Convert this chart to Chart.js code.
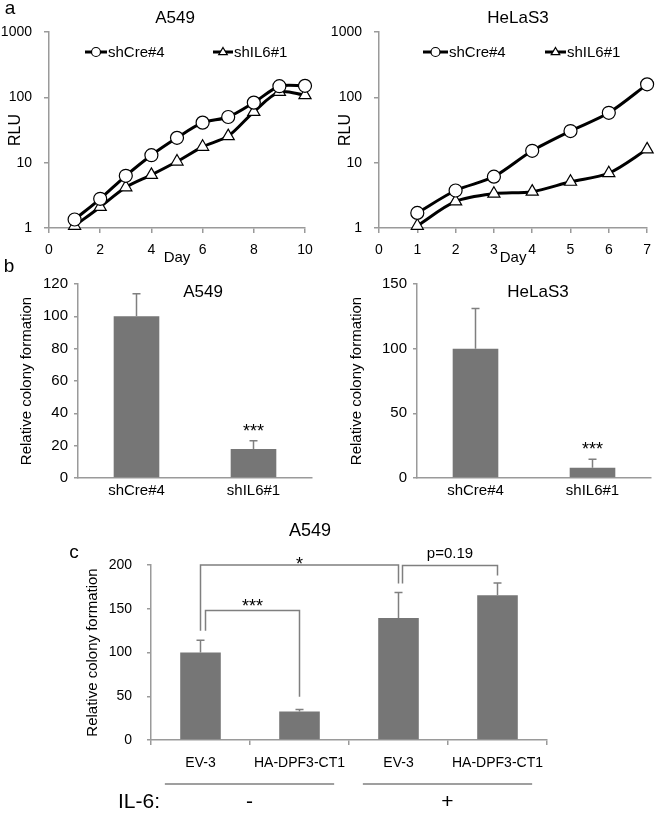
<!DOCTYPE html>
<html>
<head>
<meta charset="utf-8">
<script src="https://cdn.jsdelivr.net/npm/chart.js@4/dist/chart.umd.min.js"></script>
<style>
  body { margin: 0; background: #fff; width: 660px; height: 813px; position: relative; overflow: hidden; }
  canvas { position: absolute; }
</style>
</head>
<body>
<canvas id="growthA549" width="330" height="270" style="left:0;top:0"></canvas>
<canvas id="growthHeLa" width="330" height="270" style="left:330px;top:0"></canvas>
<canvas id="colonyA549" width="330" height="256" style="left:0;top:256px"></canvas>
<canvas id="colonyHeLa" width="330" height="256" style="left:330px;top:256px"></canvas>
<canvas id="rescueA549" width="660" height="298" style="left:0;top:515px"></canvas>
<script>
// panel a: growth curves (RLU, log scale)
const daysA549 = [1, 2, 3, 4, 5, 6, 7, 8, 9, 10];
const creA549 = [1.35, 2.8, 6.3, 13, 24, 41, 50, 83, 148, 150];
const il6A549 = [1.08, 2.1, 4.2, 6.5, 10.4, 17.5, 25.5, 60, 121, 108];
const daysHeLa = [1, 2, 3, 4, 5, 6, 7];
const creHeLa = [1.7, 3.75, 6.1, 15.2, 30.5, 58, 158];
const il6HeLa = [1.08, 2.55, 3.35, 3.6, 5.1, 6.9, 16];
const rluTicks = [1, 10, 100, 1000];

// panel b: colony formation
const shGroups = ['shCre#4', 'shIL6#1'];
const colonyA549 = [100, 18];
const colonyA549Err = [14, 5];
const colonyHeLa = [100, 8];
const colonyHeLaErr = [31, 6.5];
const colonyMarks = ['', '***'];

// panel c: IL-6 rescue
const rescueGroups = ['EV-3', 'HA-DPF3-CT1', 'EV-3', 'HA-DPF3-CT1'];
const rescueValues = [100, 32.5, 139.5, 165.5];
const rescueErr = [14, 2.5, 29, 14];
const il6States = ['-', '+'];

Chart.defaults.font.family = "'Liberation Sans', Arial, sans-serif";
Chart.defaults.color = '#000';

const AXIS = '#9a9a9a';
const BAR = '#767676';

// plain text labels drawn on a chart canvas (titles, panel letters)
function texts(items) {
  return {
    id: 'texts',
    afterDraw(chart) {
      const ctx = chart.ctx;
      items.forEach(t => {
        ctx.save();
        ctx.font = t.font;
        ctx.fillStyle = '#000';
        ctx.textAlign = t.align || 'center';
        ctx.textBaseline = 'middle';
        ctx.fillText(t.text, t.x, t.y);
        ctx.restore();
      });
    }
  };
}

function drawMarker(ctx, style, x, y, r) {
  ctx.beginPath();
  if (style === 'triangle') {
    ctx.moveTo(x, y - r);
    ctx.lineTo(x + r * 0.95, y + r * 0.6);
    ctx.lineTo(x - r * 0.95, y + r * 0.6);
    ctx.closePath();
  } else {
    ctx.arc(x, y, r, 0, Math.PI * 2);
  }
  ctx.fillStyle = '#fff';
  ctx.fill();
  ctx.lineWidth = 1.2;
  ctx.strokeStyle = '#000';
  ctx.stroke();
}

// excel style legend: line with marker, then label
function lineLegend(entries) {
  return {
    id: 'lineLegend',
    afterDraw(chart) {
      const ctx = chart.ctx;
      chart.data.datasets.forEach((ds, i) => {
        const e = entries[i];
        ctx.save();
        ctx.strokeStyle = '#000';
        ctx.lineWidth = 3;
        ctx.beginPath();
        ctx.moveTo(e.x1, e.y);
        ctx.lineTo(e.x2, e.y);
        ctx.stroke();
        drawMarker(ctx, ds.pointStyle, (e.x1 + e.x2) / 2, e.y, 4.5);
        ctx.font = '15px ' + Chart.defaults.font.family;
        ctx.fillStyle = '#000';
        ctx.textBaseline = 'middle';
        ctx.fillText(ds.label, e.x2 + 1, e.y + 1);
        ctx.restore();
      });
    }
  };
}

function growthChart(id, days, cre, il6, xMax, xStep, padRight, extras) {
  const pts = arr => days.map((d, i) => ({ x: d, y: arr[i] }));
  const series = (label, data, style, r) => ({
    label, data: pts(data), borderColor: '#000', borderWidth: 3,
    pointStyle: style, pointRadius: r, pointBackgroundColor: '#fff',
    pointBorderColor: '#000', pointBorderWidth: 1.2, tension: 0.3, clip: false
  });
  return new Chart(document.getElementById(id), {
    type: 'line',
    data: {
      datasets: [
        series('shCre#4', cre, 'circle', 6.5),
        series('shIL6#1', il6, 'triangle', 7)
      ]
    },
    options: {
      responsive: false,
      animation: false,
      layout: { padding: { left: 0, top: 32, right: padRight, bottom: 0 } },
      plugins: { legend: { display: false }, tooltip: { enabled: false } },
      scales: {
        x: {
          type: 'linear', min: 0, max: xMax,
          ticks: { stepSize: xStep, font: { size: 14 }, padding: 9, maxRotation: 0 },
          grid: { drawOnChartArea: false, tickLength: 5, color: AXIS, lineWidth: 1.5 },
          border: { color: AXIS, width: 1.5 },
          title: { display: true, text: 'Day', font: { size: 15 }, padding: { top: 0, bottom: 3 } },
          afterFit: s => { s.height = 42; }
        },
        y: {
          type: 'logarithmic', min: 1, max: 1000,
          afterBuildTicks: s => { s.ticks = rluTicks.map(v => ({ value: v })); },
          ticks: { callback: v => String(v), font: { size: 14 }, padding: 12 },
          grid: { drawOnChartArea: false, tickLength: 5, color: AXIS, lineWidth: 1.5 },
          border: { color: AXIS, width: 1.5 },
          title: { display: true, text: 'RLU', font: { size: 16 }, padding: { top: 6 } },
          afterFit: s => { s.width = 49; }
        }
      }
    },
    plugins: extras
  });
}

// error bars drawn upward from each bar top, plus significance marks
const errorBars = {
  id: 'errorBars',
  afterDatasetsDraw(chart) {
    const ctx = chart.ctx;
    const y = chart.scales.y;
    const ds = chart.data.datasets[0];
    chart.getDatasetMeta(0).data.forEach((bar, i) => {
      const top = y.getPixelForValue(ds.data[i] + ds.errors[i]);
      ctx.save();
      ctx.strokeStyle = '#7f7f7f';
      ctx.lineWidth = 1.5;
      ctx.beginPath();
      ctx.moveTo(bar.x, bar.y);
      ctx.lineTo(bar.x, top);
      ctx.moveTo(bar.x - 4, top);
      ctx.lineTo(bar.x + 4, top);
      ctx.stroke();
      if (ds.marks && ds.marks[i]) {
        ctx.font = '18px ' + Chart.defaults.font.family;
        ctx.fillStyle = '#000';
        ctx.textAlign = 'center';
        ctx.textBaseline = 'alphabetic';
        ctx.fillText(ds.marks[i], bar.x, top - 4);
      }
      ctx.restore();
    });
  }
};

function barScales(yMax, yStep, yWidth, xHeight, tickSize, xTicks) {
  return {
    x: {
      ticks: Object.assign({ font: { size: tickSize }, maxRotation: 0 }, xTicks.ticks),
      grid: Object.assign({ drawOnChartArea: false, color: AXIS, lineWidth: 1.5 }, xTicks.grid),
      border: { color: AXIS, width: 1.5 },
      afterFit: s => { s.height = xHeight; }
    },
    y: {
      min: 0, max: yMax,
      ticks: { stepSize: yStep, font: { size: tickSize }, padding: xTicks.yPad },
      grid: { drawOnChartArea: false, tickLength: 4, color: AXIS, lineWidth: 1.5 },
      border: { color: AXIS, width: 1.5 },
      title: { display: true, text: 'Relative colony formation', font: { size: 15 }, padding: { top: xTicks.titlePad } },
      afterFit: s => { s.width = yWidth; }
    }
  };
}

function colonyChart(id, values, errs, yMax, yStep, yWidth, padRight, extras) {
  return new Chart(document.getElementById(id), {
    type: 'bar',
    data: {
      labels: shGroups,
      datasets: [{
        data: values, errors: errs, marks: colonyMarks, backgroundColor: BAR,
        barPercentage: 0.39, categoryPercentage: 1
      }]
    },
    options: {
      responsive: false,
      animation: false,
      layout: { padding: { left: 0, top: 28, right: padRight, bottom: 0 } },
      plugins: { legend: { display: false }, tooltip: { enabled: false } },
      scales: barScales(yMax, yStep, yWidth, 34, 15, {
        ticks: { padding: 4 }, grid: { drawTicks: false }, yPad: 6, titlePad: 18
      })
    },
    plugins: [errorBars].concat(extras)
  });
}

growthChart('growthA549', daysA549, creA549, il6A549, 10, 2, 25, [
  lineLegend([{ x1: 85, x2: 107, y: 52 }, { x1: 213, x2: 233, y: 52 }]),
  texts([
    { text: 'a', x: 10, y: 9, font: '19px ' + Chart.defaults.font.family },
    { text: 'A549', x: 175, y: 18, font: '17px ' + Chart.defaults.font.family }
  ])
]);
growthChart('growthHeLa', daysHeLa, creHeLa, il6HeLa, 7, 1, 10, [
  lineLegend([{ x1: 93, x2: 118, y: 52 }, { x1: 215, x2: 236, y: 52 }]),
  texts([{ text: 'HeLaS3', x: 188, y: 18, font: '17px ' + Chart.defaults.font.family }])
]);

colonyChart('colonyA549', colonyA549, colonyA549Err, 120, 20, 78, 18, [
  texts([
    { text: 'b', x: 9, y: 11, font: '19px ' + Chart.defaults.font.family },
    { text: 'A549', x: 203, y: 36, font: '17px ' + Chart.defaults.font.family }
  ])
]);
colonyChart('colonyHeLa', colonyHeLa, colonyHeLaErr, 150, 50, 87, 9, [
  texts([{ text: 'HeLaS3', x: 208, y: 36, font: '17px ' + Chart.defaults.font.family }])
]);

// significance brackets for panel c (values in data units)
const rescueBrackets = [
  { from: 0, to: 1, top: 148, legs: [125, 49.5], label: '***', size: 18, gap: -1, shift: 5 },
  { from: 0, to: 2, top: 200, legs: [125, 179], label: '*', size: 18, gap: -5, shift: 0 },
  { from: 2, to: 3, top: 199.5, legs: [179, 188], label: 'p=0.19', size: 15, gap: 7, shift: 4 }
];

const bracketPlugin = {
  id: 'brackets',
  afterDatasetsDraw(chart) {
    const ctx = chart.ctx;
    const { x, y } = chart.scales;
    rescueBrackets.forEach(b => {
      const x1 = x.getPixelForValue(b.from) + b.shift;
      const x2 = x.getPixelForValue(b.to);
      const yt = y.getPixelForValue(b.top);
      ctx.save();
      ctx.strokeStyle = '#7f7f7f';
      ctx.lineWidth = 1.5;
      ctx.beginPath();
      ctx.moveTo(x1, y.getPixelForValue(b.legs[0]));
      ctx.lineTo(x1, yt);
      ctx.lineTo(x2, yt);
      ctx.lineTo(x2, y.getPixelForValue(b.legs[1]));
      ctx.stroke();
      ctx.font = b.size + 'px ' + Chart.defaults.font.family;
      ctx.fillStyle = '#000';
      ctx.textAlign = 'center';
      ctx.textBaseline = 'alphabetic';
      ctx.fillText(b.label, (x1 + x2) / 2, yt - b.gap);
      ctx.restore();
    });
  }
};

// IL-6 treatment row under the category labels
const il6Row = {
  id: 'il6Row',
  afterDraw(chart) {
    const ctx = chart.ctx;
    const x = chart.scales.x;
    const area = chart.chartArea;
    const step = x.getPixelForValue(1) - x.getPixelForValue(0);
    const lineY = area.bottom + 44;
    const textY = area.bottom + 62;
    ctx.save();
    ctx.font = '21px ' + Chart.defaults.font.family;
    ctx.fillStyle = '#000';
    ctx.textBaseline = 'middle';
    ctx.textAlign = 'right';
    ctx.fillText('IL-6:', 160, textY);
    ctx.textAlign = 'center';
    il6States.forEach((s, g) => {
      const a = x.getPixelForValue(g * 2) - step * 0.36;
      const b = x.getPixelForValue(g * 2 + 1) + step * 0.35;
      ctx.strokeStyle = '#7f7f7f';
      ctx.lineWidth = 1.5;
      ctx.beginPath();
      ctx.moveTo(a, lineY);
      ctx.lineTo(b, lineY);
      ctx.stroke();
      ctx.fillText(s, (a + b) / 2, textY);
    });
    ctx.restore();
  }
};

new Chart(document.getElementById('rescueA549'), {
  type: 'bar',
  data: {
    labels: rescueGroups,
    datasets: [{
      data: rescueValues, errors: rescueErr, backgroundColor: BAR,
      barPercentage: 0.41, categoryPercentage: 1
    }]
  },
  options: {
    responsive: false,
    animation: false,
    layout: { padding: { left: 0, top: 50, right: 113, bottom: 33 } },
    plugins: { legend: { display: false }, tooltip: { enabled: false } },
    scales: barScales(200, 50, 151, 40, 14, {
      ticks: { padding: 10 }, grid: { tickLength: 5 }, yPad: 15, titlePad: 84
    })
  },
  plugins: [errorBars, bracketPlugin, il6Row, texts([
    { text: 'c', x: 74, y: 38, font: '19px ' + Chart.defaults.font.family },
    { text: 'A549', x: 310, y: 16, font: '18px ' + Chart.defaults.font.family }
  ])]
});
</script>
</body>
</html>
